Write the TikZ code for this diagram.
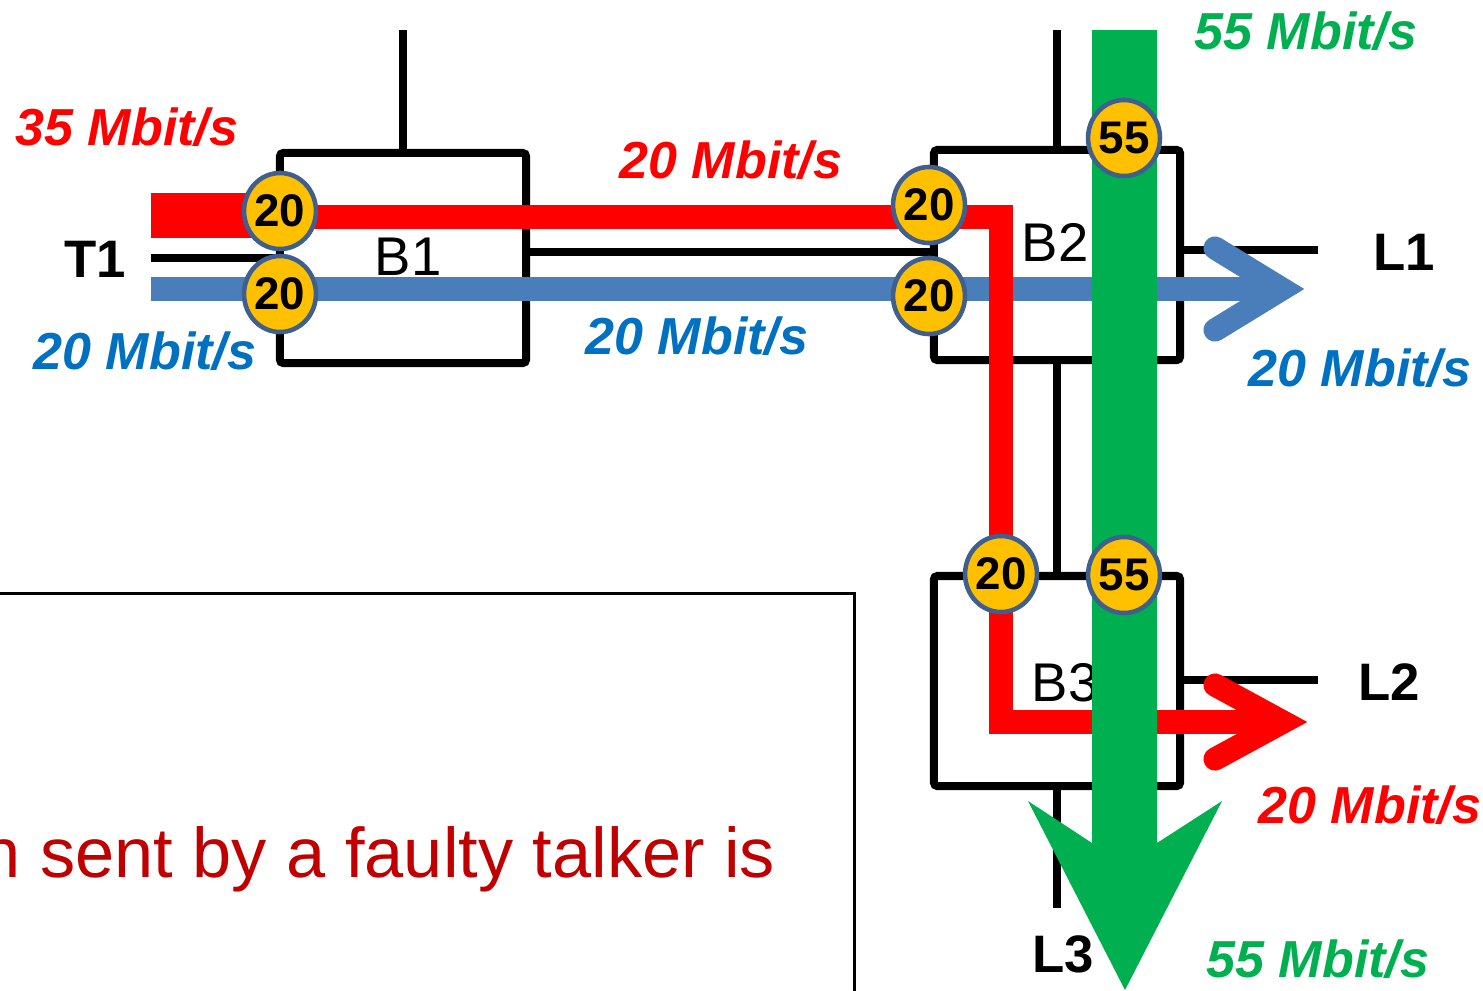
\documentclass[tikz,border=0pt]{standalone}
\usepackage{fontspec}
\setmainfont{Liberation Sans}
\usepackage{tikz}
\usetikzlibrary{positioning,shapes.geometric}
\definecolor{flowred}{HTML}{FF0000}
\definecolor{flowblue}{HTML}{4A7EBB}
\definecolor{flowgreen}{HTML}{00B050}
\definecolor{rateblue}{HTML}{0070C0}
\definecolor{badgefill}{HTML}{FFC000}
\definecolor{badgeline}{HTML}{3F5F8F}
\definecolor{notered}{HTML}{C00000}

\begin{document}
\begin{tikzpicture}[
  x=0.01cm, y=-0.01cm,
  every node/.style={inner sep=0pt},
  bridge/.style={draw, line width=2.3pt, rounded corners=1pt,
                 minimum width=2.46cm, minimum height=2.10cm},
  wire/.style={line width=2.3pt},
  blabel/.style={font=\fontsize{15.5}{18}\selectfont, anchor=base},
  port/.style={font=\fontsize{15}{18}\selectfont\bfseries, anchor=base},
  rate/.style={font=\fontsize{14.8}{18}\selectfont\bfseries\itshape, anchor=base},
  badge/.style={ellipse, draw=badgeline, fill=badgefill, line width=1.3pt,
                minimum width=0.68cm, minimum height=0.76cm,
                font=\fontsize{13}{15}\selectfont\bfseries},
  flow/.style={line width=6.6pt},
  chevron/.style={line width=6.6pt, line cap=round, line join=miter},
]
  \useasboundingbox (0,0) rectangle (1483,990);
  \clip (0,0) rectangle (1483,990);

  % Bridges
  \node[bridge] (B1) at (403,258)  {};
  \node[bridge] (B2) at (1057,255) {};
  \node[bridge] (B3) at (1057,681) {};
  \node[blabel] (B1l) at (408,275)  {B1};
  \node[blabel] (B2l) at (1055,261) {B2};
  \node[blabel] (B3l) at (1065,701) {B3};

  % Ports and links
  \node[port] (T1) at (95,277)   {T1};
  \node[port] (L1) at (1404,270) {L1};
  \node[port] (L2) at (1389,700) {L2};
  \node[port] (L3) at (1063,972) {L3};
  \coordinate (T1end) at (151,258);
  \coordinate (B1up)  at (403,30);
  \coordinate (B2up)  at (1057,30);
  \coordinate (L1end) at (1318,250);
  \coordinate (L2end) at (1318,680);
  \coordinate (L3end) at (1057,908);
  \draw[wire] (T1end) -- (B1.west);
  \draw[wire] (B1.north) -- (B1up);
  \draw[wire] (B1.east |- 0,252) -- (B2.west |- 0,252);
  \draw[wire] (B2.north) -- (B2up);
  \draw[wire] (B2.east |- L1end) -- (L1end);
  \draw[wire] (B2.south) -- (B3.north);
  \draw[wire] (B3.east |- L2end) -- (L2end);
  \draw[wire] (B3.south) -- (L3end);

  % Note frame
  \node[draw, line width=0.85pt, minimum width=8.75cm, minimum height=4.16cm]
    (note) at (417,802) {};
  \node[anchor=base east, text=notered, font=\fontsize{20}{24}\selectfont]
    (notetext) at (776,877) {n sent by a faulty talker is};

  % Blue stream T1 -> L1
  \coordinate (blueA) at (151,289);
  \coordinate (blueB) at (1282,289);
  \draw[flow, flowblue] (blueA) -- (blueB);
  \draw[chevron, flowblue] (1215,248) -- (blueB) -- (1215,330);

  % Red stream T1 -> L2
  \coordinate (redA) at (151,215);
  \coordinate (redB) at (282,215);
  \coordinate (redC) at (1283,722);
  \draw[line width=12.8pt, flowred] (redA) -- (redB);
  \draw[flow, flowred, line join=miter] (redB |- 0,217) -- (1001,217)
    -- (1001,722) -- (redC);
  \draw[chevron, flowred] (1215,685) -- (redC) -- (1215,759);

  % Green stream -> L3
  \fill[flowgreen] (1092,30) -- (1092,843) -- (1028,801) -- (1125,990)
    -- (1222,801) -- (1157,843) -- (1157,30) -- cycle;

  % Badges
  \node[badge] (b1r) at (280,211)  {20};
  \node[badge] (b1b) at (280,294)  {20};
  \node[badge] (b2r) at (929,205)  {20};
  \node[badge] (b2b) at (929,296)  {20};
  \node[badge] (b2g) at (1124,138) {55};
  \node[badge] (b3r) at (1001,574) {20};
  \node[badge] (b3g) at (1124,575) {55};

  % Rates
  \node[rate, text=flowred]   (r1) at (127,145)  {35 Mbit/s};
  \node[rate, text=flowred]   (r2) at (731,178)  {20 Mbit/s};
  \node[rate, text=rateblue]  (r3) at (145,369)  {20 Mbit/s};
  \node[rate, text=rateblue]  (r4) at (697,354)  {20 Mbit/s};
  \node[rate, text=rateblue]  (r5) at (1360,386) {20 Mbit/s};
  \node[rate, text=flowgreen] (r6) at (1306,49)  {55 Mbit/s};
  \node[rate, text=flowred]   (r7) at (1370,823) {20 Mbit/s};
  \node[rate, text=flowgreen] (r8) at (1318,977) {55 Mbit/s};
\end{tikzpicture}
\end{document}
